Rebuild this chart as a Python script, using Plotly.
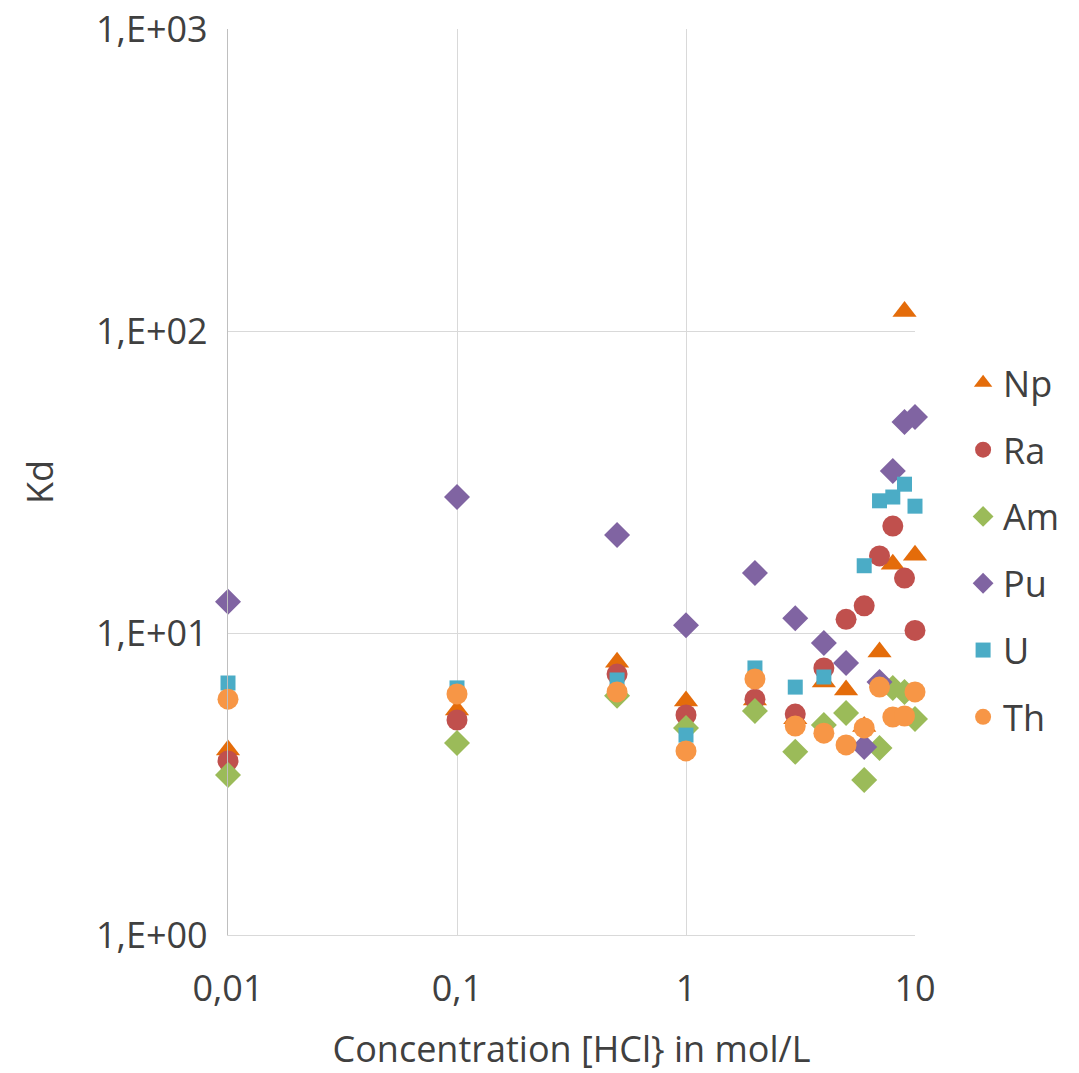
import plotly.graph_objects as go

# HCl concentration (mol/L)
conc = [0.01, 0.1, 0.5, 1, 2, 3, 4, 5, 6, 7, 8, 9, 10]

# Distribution coefficients per element
kd_np = [4.1, 5.56, 8.0, 5.95, 6.0, 5.2, 6.88, 6.47, 4.9, 8.65, 16.9, 116, 18.1]
kd_ra = [3.77, 5.15, 7.31, 5.35, 6.04, 5.39, 7.66, 11.1, 12.3, 18.0, 22.6, 15.2, 10.2]
kd_am = [3.39, 4.32, 6.2, 4.85, 5.52, 4.04, 4.96, 5.43, 3.26, 4.16, 6.58, 6.38, 5.19]
kd_pu = [12.7, 28.2, 21.1, 10.6, 15.8, 11.2, 9.26, 7.96, 4.19, 6.88, 34.4, 50.0, 51.9]
conc_u = [0.01, 0.1, 0.5, 1, 2, 3, 4, 6, 7, 8, 9, 10]
kd_u = [6.83, 6.58, 6.99, 4.59, 7.66, 6.62, 7.15, 16.7, 27.4, 28.2, 31.1, 26.3]
kd_th = [6.04, 6.28, 6.38, 4.07, 7.04, 4.92, 4.66, 4.26, 4.85, 6.62, 5.27, 5.31, 6.38]

y_ticks = [1, 10, 100, 1000]
y_labels = ["1,E+00", "1,E+01", "1,E+02", "1,E+03"]
x_ticks = [0.01, 0.1, 1, 10]
x_labels = ["0,01", "0,1", "1", "10"]

series = [
    ("Np", conc, kd_np, "triangle-up", "#E46C0A", 21),
    ("Ra", conc, kd_ra, "circle", "#C0504D", 21),
    ("Am", conc, kd_am, "diamond", "#9BBB59", 20),
    ("Pu", conc, kd_pu, "diamond", "#8064A2", 20),
    ("U", conc_u, kd_u, "square", "#4BACC6", 15),
    ("Th", conc, kd_th, "circle", "#F79646", 21),
]

fig = go.Figure()
for name, xs, ys, sym, col, sz in series:
    fig.add_trace(go.Scatter(
        x=xs, y=ys, mode="markers", name=name, legendgroup=name,
        cliponaxis=False,
        marker=dict(symbol=sym, color=col, size=sz, line=dict(width=0)),
    ))

font_family = "Open Sans, Liberation Sans, sans-serif"
txt = "#404040"
fs = 36

fig.update_layout(
    width=1079, height=1073,
    margin=dict(l=228, r=164, t=29, b=138),
    paper_bgcolor="white", plot_bgcolor="white",
    font=dict(family=font_family, size=fs, color=txt),
    legend=dict(
        x=1.07, y=0.425, xanchor="left", yanchor="middle",
        font=dict(size=fs, color=txt),
        tracegroupgap=17, itemsizing="trace", itemwidth=30,
    ),
    xaxis=dict(
        type="log", range=[-2, 1],
        tickvals=x_ticks, ticktext=x_labels,
        showgrid=True, gridcolor="#D9D9D9", gridwidth=1.3,
        showline=True, linecolor="#D9D9D9", linewidth=1.3,
        zeroline=False, ticks="", ticklabelstandoff=22,
        automargin=False,
        title=dict(text="Concentration [HCl} in mol/L", font=dict(size=fs, color=txt), standoff=25),
        tickfont=dict(size=fs, color=txt),
    ),
    yaxis=dict(
        type="log", range=[0, 3],
        tickvals=y_ticks, ticktext=y_labels,
        showgrid=True, gridcolor="#D9D9D9", gridwidth=1.3,
        showline=True, linecolor="#BFBFBF", linewidth=1.3,
        zeroline=False, ticks="", ticklabelstandoff=12,
        automargin=False,
        title=dict(text="Kd", font=dict(size=fs, color=txt), standoff=31),
        tickfont=dict(size=fs, color=txt),
    ),
)

fig.write_html("out.html")
